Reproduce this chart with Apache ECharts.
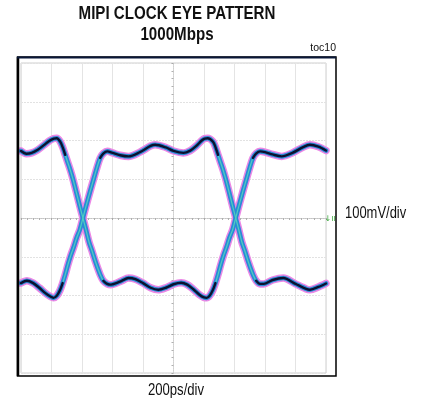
<!DOCTYPE html>
<html>
<head>
<meta charset="utf-8">
<script src="https://cdn.jsdelivr.net/npm/echarts@6/dist/echarts.min.js"></script>
<style>
html,body{margin:0;padding:0;background:#fff;}
#chart{width:422px;height:403px;}
</style>
</head>
<body>
<div id="chart"></div>
<script>
// Time in ps relative to screen centre (200ps/div), voltage in mV (100mV/div)
var timeU = [-1000,-965,-930,-890,-850,-815,-785,-765,-743,-726,-710,-694,-677,-657,-637,-614,-594,-574,-554,-535,-510,-481,-460,-435,-410,-380,-340,-295,-250,-200,-150,-99,-50,0,50,90,130,170,200,218,238,258,275,292,310,328,346,368,388,408,428,456,478,500,521,543,568,600,650,710,780,850,895,950,1000];
var voltU = [173,166,168,176,188,199,205,206,197,182,163,144,124,97,66,30,0,-30,-62,-84,-115,-146,-162,-170,-172,-169,-162,-155,-158,-168,-180,-185,-180,-171,-167,-172,-184,-198,-205,-206,-200,-186,-168,-146,-120,-97,-77,-50,-30,0,30,70,100,130,155,167,172,170,164,159,168,183,189,184,174];
var timeL = [-1000,-961,-920,-880,-840,-810,-787,-764,-744,-727,-710,-692,-674,-656,-634,-614,-594,-574,-546,-524,-502,-481,-459,-434,-400,-350,-295,-220,-150,-120,-50,0,65,110,150,185,205,225,259,276,292,308,325,345,365,388,408,428,448,467,492,521,542,567,592,650,720,800,870,895,950,1000];
var voltL = [-168,-162,-168,-180,-194,-202,-206,-200,-186,-168,-146,-120,-97,-77,-50,-30,0,30,70,100,130,155,167,172,168,162,159,170,186,189,182,173,168,174,186,200,205,206,197,182,163,144,124,97,66,30,0,-30,-62,-84,-115,-146,-162,-170,-170,-160,-155,-170,-183,-185,-178,-169];
var titleLines = ['MIPI CLOCK EYE PATTERN', '1000Mbps'];
var xScaleLabel = '200ps/div';
var yScaleLabel = '100mV/div';
var docTag = 'toc10';

function pairs(t, v) { return t.map(function (x, i) { return [x, v[i]]; }); }
function levelOnly(t, v) { return t.map(function (x, i) { return [x, Math.abs(v[i]) >= 150 ? v[i] : null]; }); }

var dU = pairs(timeU, voltU), dL = pairs(timeL, voltL);
var cU = levelOnly(timeU, voltU), cL = levelOnly(timeL, voltL);

function lineSeries(data, color, width, z) {
  return {
    type: 'line', data: data, smooth: 0.3, showSymbol: false, symbol: 'none',
    connectNulls: false, silent: true, z: z,
    lineStyle: { color: color, width: width, cap: 'round', join: 'round' }
  };
}

var SANS = "'Liberation Sans',Arial,sans-serif";
function label(txt, x, y, font, align, sx) {
  return { type: 'text', z: 100, silent: true, x: x, y: y, scaleX: sx,
    style: { text: txt, font: font, fill: '#111', align: align, verticalAlign: 'middle' } };
}
var chart = echarts.init(document.getElementById('chart'), null, { renderer: 'canvas' });
chart.setOption({
  animation: false,
  backgroundColor: '#fff',
  grid: { left: 21, top: 63, width: 305, height: 310, show: true, borderColor: '#cfcfcf', borderWidth: 1, backgroundColor: '#fff' },
  xAxis: {
    type: 'value', min: -1000, max: 1000, interval: 200,
    axisLabel: { show: false },
    axisLine: { show: true, onZero: true, lineStyle: { color: '#c4c4c4', width: 1, type: 'dotted' } },
    axisTick: { show: true, length: 2, lineStyle: { color: '#a8a8a8' } },
    minorTick: { show: true, splitNumber: 5, length: 2, lineStyle: { color: '#b0b0b0' } },
    splitLine: { show: true, lineStyle: { color: '#e4e4e4', width: 1 } }
  },
  yAxis: {
    type: 'value', min: -400, max: 400, interval: 100,
    axisLabel: { show: false },
    axisLine: { show: true, onZero: true, lineStyle: { color: '#d0d0d0', width: 1, type: 'dotted' } },
    axisTick: { show: true, length: 2, lineStyle: { color: '#a8a8a8' } },
    minorTick: { show: true, splitNumber: 5, length: 2, lineStyle: { color: '#b0b0b0' } },
    splitLine: { show: true, lineStyle: { color: '#e2e2e2', width: 1, type: [2, 1] } }
  },
  series: [
    lineSeries(dU, '#ea88e6', 7.5, 2),
    lineSeries(dL, '#ea88e6', 7.5, 2),
    lineSeries(dU, '#2a8ad6', 4.6, 3),
    lineSeries(dL, '#2a8ad6', 4.6, 3),
    lineSeries(dU, '#4ccfbf', 1.2, 4),
    lineSeries(dL, '#4ccfbf', 1.2, 4),
    lineSeries(cU, '#0b1030', 2.4, 5),
    lineSeries(cL, '#0b1030', 2.4, 5)
  ],
  graphic: [
    { type: 'rect', z: 100, silent: true, shape: { x: 17.5, y: 57, width: 318.5, height: 319 }, style: { fill: 'none', stroke: '#000', lineWidth: 1.5 } },
    { type: 'line', z: 100, silent: true, shape: { x1: 18, y1: 57, x2: 18, y2: 376 }, style: { stroke: '#000', lineWidth: 2.5 } },
    { type: 'line', z: 100, silent: true, shape: { x1: 17, y1: 57.5, x2: 336, y2: 57.5 }, style: { stroke: '#0a1838', lineWidth: 2 } },
    label(titleLines[0], 177, 14, 'bold 18px ' + SANS, 'center', 0.84),
    label(titleLines[1], 177, 35, 'bold 18px ' + SANS, 'center', 0.84),
    label(docTag, 336, 48, '10.5px ' + SANS, 'right', 1),
    label(yScaleLabel, 345, 214, '16px ' + SANS, 'left', 0.81),
    label(xScaleLabel, 176, 391, '16px ' + SANS, 'center', 0.82),
    { type: 'text', z: 100, silent: true, x: 330, y: 219, style: { text: '\u2193\u0131\u0131', font: "8px 'DejaVu Sans',sans-serif", fill: '#3aa83a', align: 'center', verticalAlign: 'middle' } }
  ]
});
</script>
</body>
</html>
